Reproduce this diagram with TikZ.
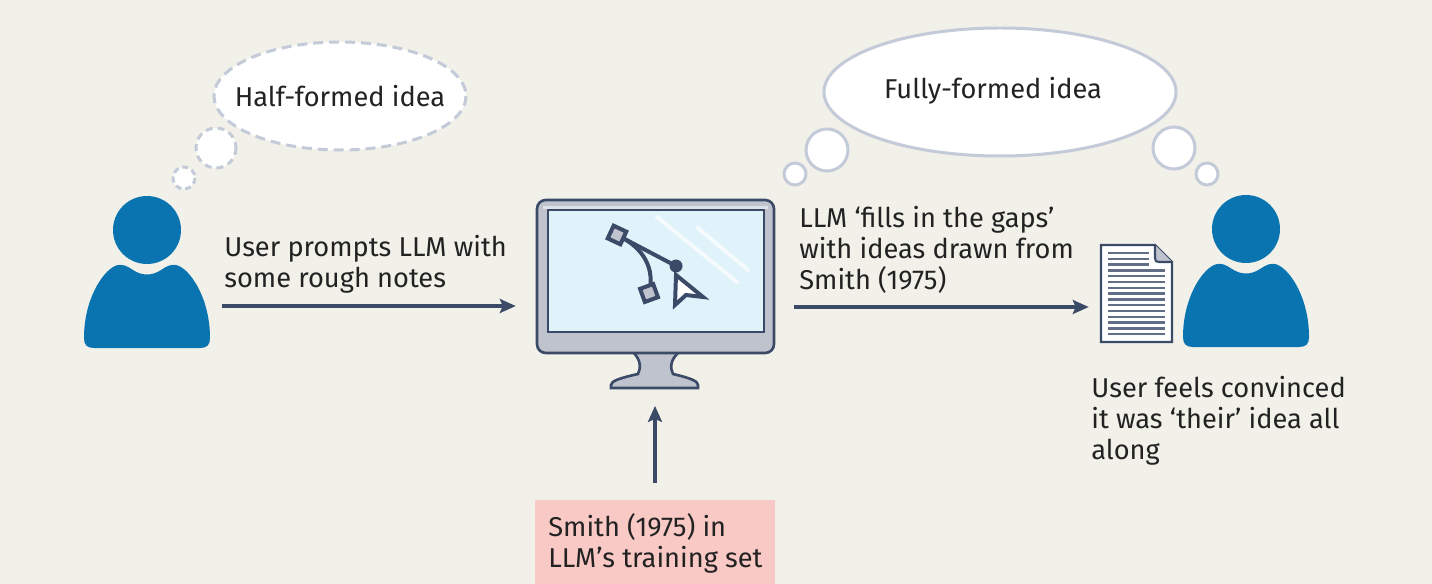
\documentclass[tikz,border=0pt]{standalone}
\usepackage{fontspec}
\setmainfont{Fira Sans}
\usepackage{xcolor}
\usetikzlibrary{arrows.meta}

\definecolor{bgcol}{HTML}{F1F0E9}
\definecolor{userblue}{HTML}{0A74B0}
\definecolor{navy}{HTML}{3B4A66}
\definecolor{bubble}{HTML}{C3CAD8}
\definecolor{frame}{HTML}{BEC3CD}
\definecolor{screen}{HTML}{E0F3FB}
\definecolor{pinkbox}{HTML}{F9C9C5}
\definecolor{inkcol}{HTML}{222222}

\tikzset{
  user/.pic={
    \fill[userblue] (0,0) circle (34);
    \fill[userblue] (-63,108) .. controls (-63,70) and (-45,42) .. (-32,36)
      .. controls (-25,33) and (-20,36) .. (-14,40)
      .. controls (-5,46) and (5,46) .. (14,40)
      .. controls (20,36) and (25,33) .. (32,36)
      .. controls (45,42) and (63,70) .. (63,108)
      .. controls (63,115) and (60,118) .. (53,118) -- (-53,118)
      .. controls (-60,118) and (-63,115) .. (-63,108) -- cycle;
  }
}

\begin{document}
\begin{tikzpicture}[x=0.02cm, y=-0.02cm, font=\fontsize{15.5}{17.6}\selectfont, text=inkcol,
  label/.style={anchor=base west, align=left, inner sep=0pt},
  arr/.style={draw=navy, line width=3.2*0.567pt, -{Stealth[length=16*0.567pt, width=14*0.567pt, inset=3*0.567pt]}},
  thought/.style={fill=white, draw=bubble, line width=3*0.567pt},
  icon/.style={draw=navy, line width=4*0.567pt}]
  \useasboundingbox[fill=bgcol] (0,0) rectangle (1432,584);

  % users
  \pic at (147,230) {user};
  \pic at (1246,229) {user};

  % thought bubbles
  \draw[thought, dash pattern=on 10*0.567pt off 6*0.567pt] (340,96) ellipse [x radius=126, y radius=54];
  \draw[thought, dash pattern=on 7*0.567pt off 5*0.567pt] (216,148) circle (20);
  \draw[thought, dash pattern=on 6*0.567pt off 4*0.567pt] (184,178) circle (11);
  \node (half) at (340,96) {Half-formed idea};
  \draw[thought] (1000,92) ellipse [x radius=176, y radius=64];
  \draw[thought] (827,150) circle (21);
  \draw[thought] (795,174) circle (11);
  \draw[thought] (1174,148) circle (21);
  \draw[thought] (1207,174) circle (11);
  \node (full) at (993,91) {Fully-formed idea};

  % monitor
  \draw[fill=frame, draw=navy, line width=1.5pt] (633,352) .. controls (641,360) and (641,368) .. (638,374)
    .. controls (620,378) and (611,381) .. (611,385) -- (611,388) -- (698,388) -- (698,385)
    .. controls (698,381) and (690,378) .. (673,374) .. controls (670,368) and (670,360) .. (679,352) -- cycle;
  \node[draw=navy, fill=frame, line width=1.5pt, rounded corners=5pt, minimum width=4.74cm, minimum height=3.06cm] (mon) at (655.5,276.5) {};
  \fill[white, opacity=0.5] (543,206) rectangle (768,209);
  \node[draw=navy, fill=screen, line width=1.3pt, minimum width=4.32cm, minimum height=2.44cm] (scr) at (656,271) {};
  \draw[white, line width=4*0.567pt, opacity=0.7, line cap=round] (657,217) -- (737,282) (698,228) -- (748,270);
  \draw[icon] (617,235) -- (676,266);
  \draw[icon] (617,235) .. controls (645,248) and (655,270) .. (649,293);
  \draw[icon, fill=frame, rotate around={-25:(617,235)}] (610,228) rectangle (624,242);
  \draw[icon, fill=frame, rotate around={20:(649,293)}] (642,286) rectangle (656,300);
  \fill[navy] (676,266) circle (6.5);
  \draw[icon, fill=white, line join=miter] (676,275) -- (675,305) -- (686,295) -- (703,297) -- cycle;

  % document
  \node[minimum width=1.42cm, minimum height=1.94cm, inner sep=0pt] (doc) at (1136.5,293.5) {};
  \draw[draw=navy, fill=white, line width=1.2pt] (1101,245) -- (1155,245) -- (1172,262) -- (1172,342) -- (1101,342) -- cycle;
  \draw[draw=navy, fill=frame, line width=1.2pt, line join=round] (1155,245) -- (1155,258) .. controls (1155,261) and (1156,262) .. (1159,262) -- (1172,262);
  \foreach \i in {0,1,2} \draw[navy!80, line width=1.4pt] (1108,253+\i*5.8) -- (1149,253+\i*5.8);
  \foreach \i in {3,...,14} \draw[navy!80, line width=1.4pt] (1108,253+\i*5.8) -- (1165,253+\i*5.8);

  % training set
  \node[fill=pinkbox, minimum width=4.8cm, minimum height=1.68cm, inner sep=0pt] (train) at (655,542) {};
  \node[label] (traintxt) at (548,567) {Smith (1975) in\\LLM’s training set};

  % labels (anchored on last baseline)
  \node[label] (prompt) at (224,287) {User prompts LLM with\\some rough notes};
  \node[label] (fills) at (799,289) {LLM ‘fills in the gaps’\\with ideas drawn from\\Smith (1975)};
  \node[label] (conv) at (1091,459) {User feels convinced\\it was ‘their’ idea all\\along};

  % arrows
  \coordinate (p1) at (222,306);
  \coordinate (p2) at (794,307);
  \coordinate (base) at (655,388);
  \draw[arr, shorten >=20*0.567pt] (p1) -- (p1 -| mon.west);
  \draw[arr, shorten >=12*0.567pt] (p2) -- (p2 -| doc.west);
  \draw[arr, shorten <=17*0.567pt, shorten >=18*0.567pt] (train.north) -- (base);
\end{tikzpicture}
\end{document}
